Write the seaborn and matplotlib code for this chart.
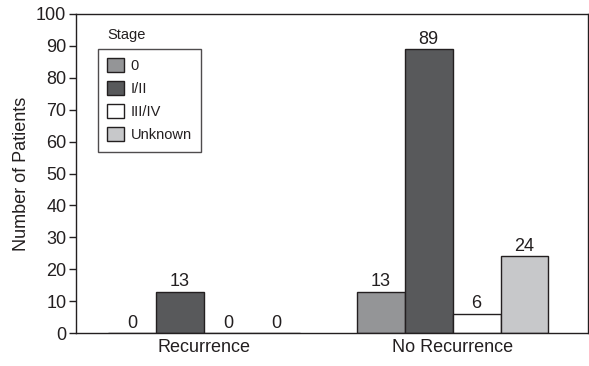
import matplotlib
matplotlib.use("Agg")
import matplotlib.pyplot as plt
import seaborn as sns
import pandas as pd
from matplotlib import font_manager

groups = ["Recurrence", "No Recurrence"]
stages = ["0", "I/II", "III/IV", "Unknown"]
counts_recurrence = [0, 13, 0, 0]
counts_no_recurrence = [13, 89, 6, 24]
colors = ["#939598", "#58595b", "#ffffff", "#c7c8ca"]
yticks = list(range(0, 101, 10))

rows = []
for g, vals in zip(groups, [counts_recurrence, counts_no_recurrence]):
    for s, v in zip(stages, vals):
        rows.append({"Group": g, "Stage": s, "Count": v})
df = pd.DataFrame(rows)

sns.set_style("white")
names = {f.name for f in font_manager.fontManager.ttflist}
fam = ["Liberation Sans Narrow"] if "Liberation Sans Narrow" in names else []
plt.rcParams["font.family"] = fam + ["Liberation Sans", "DejaVu Sans"]
big = 13

fig = plt.figure(figsize=(5.89, 3.66), dpi=100)
ax = fig.add_axes([76 / 589, 1 - 333 / 366, 512 / 589, (333 - 14) / 366])

sns.barplot(data=df, x="Group", y="Count", hue="Stage", order=groups, hue_order=stages,
            palette=colors, width=0.772, edgecolor="#231f20", linewidth=1.0, ax=ax,
            legend=True)

for cont in ax.containers:
    ax.bar_label(cont, fmt="%d", padding=1, fontsize=big, color="#231f20")

ax.set_xlim(-0.515, 1.545)
ax.set_ylim(0, 100)
ax.set_yticks(yticks)
ax.set_yticklabels([str(t) for t in yticks], fontsize=big, color="#231f20")
ax.tick_params(axis="x", labelsize=big, colors="#231f20", length=0, pad=4)
ax.tick_params(axis="y", left=True, length=5, width=1, color="#231f20", pad=2)
ax.set_xlabel("")
ax.set_ylabel("Number of Patients", fontsize=big, color="#231f20", labelpad=4)
for sp in ax.spines.values():
    sp.set_visible(True)
    sp.set_color("#231f20")
    sp.set_linewidth(1)

leg = ax.legend(loc="upper left", bbox_to_anchor=(22 / 512, (333 - 49) / 319),
                frameon=True, fancybox=False, edgecolor="#231f20", fontsize=10.5,
                handlelength=1.1, handleheight=1.1, handletextpad=0.5,
                labelspacing=0.55, borderpad=0.65, borderaxespad=0)
leg.get_frame().set_linewidth(1)
for t in leg.get_texts():
    t.set_color("#231f20")
ax.text(31 / 512, (333 - 35) / 319, "Stage", transform=ax.transAxes,
        fontsize=10.5, color="#231f20", va="center", ha="left")

fig.savefig("out.png", dpi=100)
